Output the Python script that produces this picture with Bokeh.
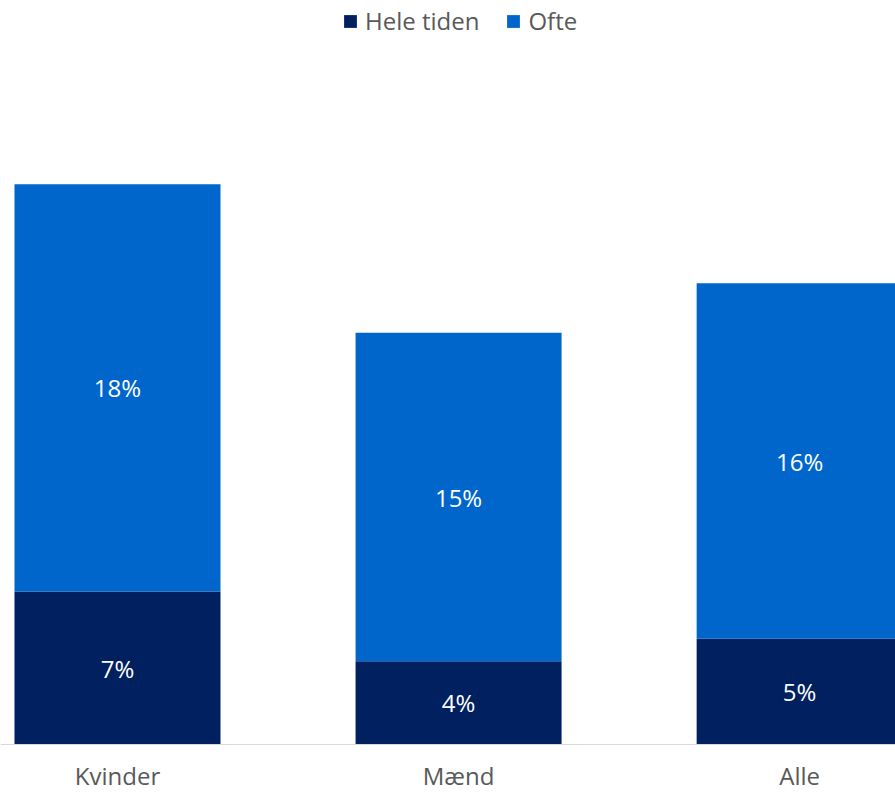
from bokeh.plotting import figure
from bokeh.models import ColumnDataSource, Legend, LegendItem, Range1d, LabelSet, Span
from bokeh.core.properties import value
from bokeh.embed import file_html
from bokeh.resources import INLINE

categories = ["Kvinder", "Mænd", "Alle"]
hele_tiden = [6.8, 3.7, 4.7]
ofte = [18.1, 14.6, 15.8]
series_names = ["Hele tiden", "Ofte"]
colors = ["#002060", "#0066CC"]

FONT = "Open Sans"
GRAY = "#595959"
FS = "24px"

xs = list(range(len(categories)))
src = ColumnDataSource(dict(
    x=xs,
    cat=categories,
    zero=[0] * len(xs),
    hele=hele_tiden,
    ofte=ofte,
    hele_mid=[h / 2 for h in hele_tiden],
    ofte_mid=[h + o / 2 for h, o in zip(hele_tiden, ofte)],
    hele_lbl=[f"{round(v)}%" for v in hele_tiden],
    ofte_lbl=[f"{round(v)}%" for v in ofte],
))

p = figure(width=895, height=793, output_backend="svg", toolbar_location=None,
           x_range=Range1d(-0.343, 2.281), y_range=Range1d(-2.178, 33.07),
           min_border_left=0, min_border_right=0, min_border_top=0, min_border_bottom=0)

r = p.vbar_stack(["hele", "ofte"], x="x", width=0.604, source=src, color=colors,
                 line_color=None)

for col, lbl in (("hele_mid", "hele_lbl"), ("ofte_mid", "ofte_lbl")):
    p.add_layout(LabelSet(x="x", y=col, text=lbl, source=src, text_align="center",
                          text_baseline="middle", text_color="white",
                          text_font=value(FONT), text_font_size=FS))

# baseline and category labels
p.add_layout(Span(location=0, dimension="width", line_color="#D9D9D9", line_width=1))
p.add_layout(LabelSet(x="x", y="zero", text="cat", source=src, text_align="center",
                      text_baseline="middle", y_offset=-31, text_color=GRAY,
                      text_font=value(FONT), text_font_size=FS))

legend = Legend(items=[LegendItem(label=n, renderers=[rr]) for n, rr in zip(series_names, r)],
                orientation="horizontal", location=(342, 756),
                glyph_width=16, glyph_height=16, label_standoff=7, spacing=26,
                padding=0, margin=0, border_line_color=None, background_fill_alpha=0,
                label_text_font=FONT, label_text_font_size=FS, label_text_color=GRAY)
p.add_layout(legend, "center")

p.xaxis.visible = False
p.yaxis.visible = False
p.xgrid.grid_line_color = None
p.ygrid.grid_line_color = None
p.outline_line_color = None

open("out.html", "w").write(file_html(p, INLINE))
